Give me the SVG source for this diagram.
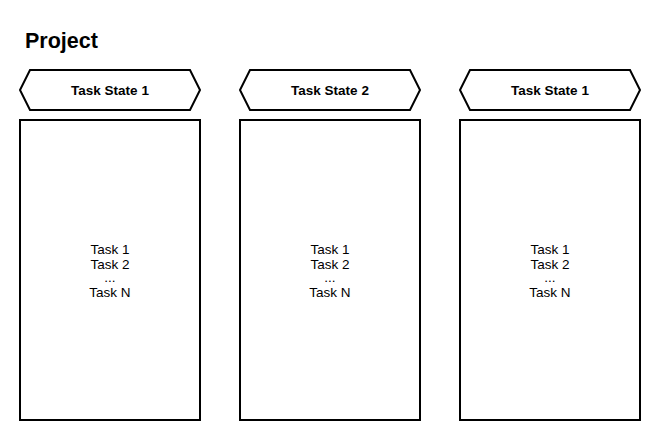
<svg xmlns="http://www.w3.org/2000/svg" width="660" height="440" viewBox="0 0 660 440">
<style>
.shape{fill:#fff;stroke:#000;stroke-width:2}
.hdr{font-family:"Liberation Sans",Arial,sans-serif;font-size:13.5px;font-weight:bold;text-anchor:middle}
.body{font-family:"Liberation Sans",Arial,sans-serif;font-size:13.5px;text-anchor:middle}
.title{font-family:"Liberation Sans",Arial,sans-serif;font-size:21.5px;font-weight:bold}
</style>
<rect width="660" height="440" fill="#fff"/>
<text class="title" x="25" y="47.5">Project</text>
<g id="state1">
<path class="shape" d="M30,70 L190,70 Q195,80 200,90 Q195,100 190,110 L30,110 Q25,100 20,90 Q25,80 30,70 Z"/>
<text class="hdr" x="110" y="95">Task State 1</text>
</g>
<g id="list1">
<rect class="shape" x="20" y="120" width="180" height="300"/>
<text class="body" x="110" y="253.5">Task 1</text>
<text class="body" x="110" y="268.5">Task 2</text>
<text class="body" x="110" y="282">...</text>
<text class="body" x="110" y="296.5">Task N</text>
</g>
<g id="state2">
<path class="shape" d="M250,70 L410,70 Q415,80 420,90 Q415,100 410,110 L250,110 Q245,100 240,90 Q245,80 250,70 Z"/>
<text class="hdr" x="330" y="95">Task State 2</text>
</g>
<g id="list2">
<rect class="shape" x="240" y="120" width="180" height="300"/>
<text class="body" x="330" y="253.5">Task 1</text>
<text class="body" x="330" y="268.5">Task 2</text>
<text class="body" x="330" y="282">...</text>
<text class="body" x="330" y="296.5">Task N</text>
</g>
<g id="state3">
<path class="shape" d="M470,70 L630,70 Q635,80 640,90 Q635,100 630,110 L470,110 Q465,100 460,90 Q465,80 470,70 Z"/>
<text class="hdr" x="550" y="95">Task State 1</text>
</g>
<g id="list3">
<rect class="shape" x="460" y="120" width="180" height="300"/>
<text class="body" x="550" y="253.5">Task 1</text>
<text class="body" x="550" y="268.5">Task 2</text>
<text class="body" x="550" y="282">...</text>
<text class="body" x="550" y="296.5">Task N</text>
</g>
<g id="connectors"/>
</svg>
